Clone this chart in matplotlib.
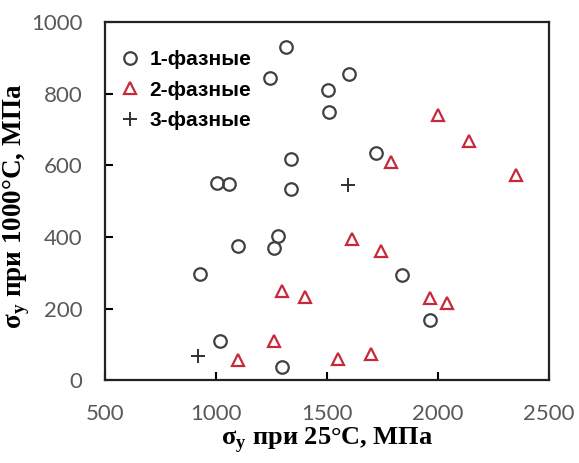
import matplotlib
matplotlib.use("Agg")
import matplotlib.pyplot as plt

# yield strength at 25 C vs at 1000 C, MPa
one_x = [1300, 1020, 930, 1100, 1280, 1260, 1005, 1060, 1340, 1340,
         1315, 1243, 1505, 1510, 1600, 1720, 1840, 1965]
one_y = [36, 110, 296, 375, 402, 368, 550, 547, 618, 535,
         932, 843, 812, 750, 855, 634, 295, 167]

two_x = [2000, 2140, 2350, 1790, 1615, 1745, 1965, 2040, 1700,
         1300, 1400, 1262, 1100, 1550]
two_y = [740, 668, 573, 610, 395, 360, 230, 216, 72,
         250, 233, 108, 55, 60]

three_x = [920, 1595]
three_y = [68, 545]

labels = ["1-фазные", "2-фазные", "3-фазные"]

plt.rcParams["mathtext.fontset"] = "custom"
plt.rcParams["mathtext.rm"] = "Liberation Serif:bold"

fig = plt.figure(figsize=(5.79, 4.63), dpi=100)
ax = fig.add_axes([0.181, 0.179, 0.767, 0.773])

ax.plot(one_x, one_y, "o", ms=9, mfc="none", mec="#404040", mew=1.6, label=labels[0])
ax.plot(two_x, two_y, "^", ms=9, mfc="none", mec="#c8283a", mew=1.6, label=labels[1])
ax.plot(three_x, three_y, "+", ms=10, mec="#303030", mew=1.4, label=labels[2])

ax.set_xlim(500, 2500)
ax.set_ylim(0, 1000)
ax.set_xticks([500, 1000, 1500, 2000, 2500])
ax.set_yticks([0, 200, 400, 600, 800, 1000])
ax.tick_params(direction="in", length=6, width=1.5,
               labelsize=16, labelcolor="#595959")
ax.tick_params(axis="x", pad=17)
ax.tick_params(axis="y", pad=16)
for lab in ax.get_xticklabels() + ax.get_yticklabels():
    lab.set_family("Lato")
for s in ax.spines.values():
    s.set_linewidth(1.6)
    s.set_color("#222222")

ax.set_xlabel(r"σ$_\mathrm{y}$ при 25°C, МПа", family="Liberation Serif",
              weight="bold", fontsize=19, labelpad=1)
ax.set_ylabel(r"σ$_\mathrm{y}$ при 1000°C, МПа", family="Liberation Serif",
              weight="bold", fontsize=19.5)
ax.yaxis.set_label_coords(-0.163, 0.486)

leg = ax.legend(loc="upper left", bbox_to_anchor=(0.009, 0.945), frameon=False,
                handletextpad=0.36, handlelength=1.2, labelspacing=0.55,
                borderaxespad=0,
                prop={"family": "Liberation Sans", "weight": "bold", "size": 15})

fig.savefig("out.png", dpi=100)
